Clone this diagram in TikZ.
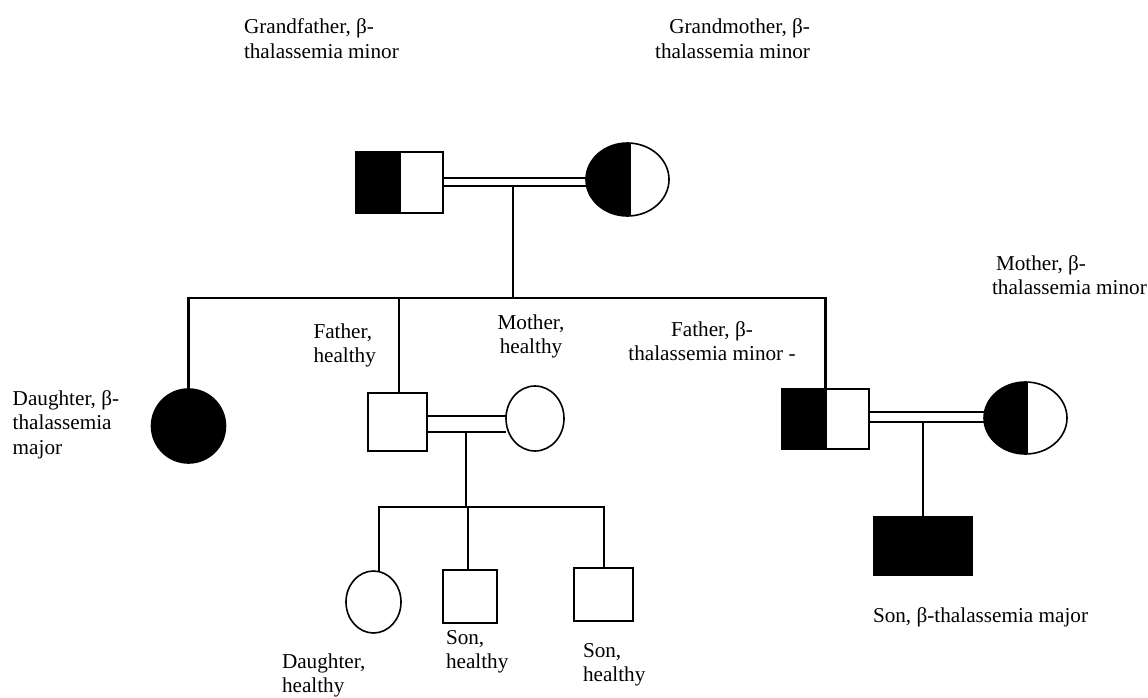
\documentclass[tikz,border=0pt]{standalone}
\usepackage{fontspec}
\setmainfont{Liberation Serif}
\usetikzlibrary{shapes.geometric,backgrounds}
\begin{document}
\begin{tikzpicture}[x=1pt,y=-1pt,
  every node/.style={inner sep=0pt,outer sep=0pt},
  male/.style={rectangle,draw=black,line width=1.6pt,fill=white},
  female/.style={ellipse,draw=black,line width=1.6pt,fill=white},
  affected/.style={fill=black},
  carrier/.style={path picture={\fill[black] (path picture bounding box.south west)
      rectangle ([xshift=#1]path picture bounding box.north);}},
  carrier/.default=0pt,
  rel/.style={line width=2.4pt,draw=black},
  lbl/.style={font=\fontsize{21.2}{24.6}\selectfont,text=black}]
\useasboundingbox (0,0) rectangle (1148,698);

% generation I
\node[male,carrier=1.5pt,minimum width=87pt,minimum height=61pt] (gf) at (399.5,182.5) {};
\node[female,carrier=3.5pt,minimum width=83pt,minimum height=73pt] (gm) at (627.5,179.5) {};

% generation II
\node[female,affected,minimum width=74pt,minimum height=74pt] (d1) at (188.5,426) {};
\node[male,minimum width=59pt,minimum height=58pt] (fa) at (397.5,422) {};
\node[female,minimum width=58pt,minimum height=65pt] (mo) at (535,418.5) {};
\node[male,carrier=1.5pt,minimum width=87pt,minimum height=60pt] (rf) at (825.5,419) {};
\node[female,carrier=2.5pt,minimum width=83pt,minimum height=72pt] (rm) at (1025.5,418) {};

% generation III
\node[male,affected,minimum width=98pt,minimum height=58pt] (rs) at (923,546) {};
\node[female,minimum width=55pt,minimum height=62pt] (c1) at (373.5,602) {};
\node[male,minimum width=54pt,minimum height=53pt] (c2) at (470,596.5) {};
\node[male,minimum width=59pt,minimum height=53pt] (c3) at (603.5,594.5) {};

% line levels
\coordinate (sib) at (0,298);
\coordinate (sib2) at (0,507);
\coordinate (gpm) at (513,186);
\coordinate (mm) at (466,432);
\coordinate (rmm) at (923,422);

\begin{scope}[on background layer]
  % double marriage lines
  \draw[rel] ([yshift=4.5pt]gf.east) -- ([yshift=4.5pt]gf.east -| gm.west);
  \draw[rel] ([yshift=-3.5pt]gf.east) -- ([yshift=-3.5pt]gf.east -| gm.west);
  \draw[rel] ([yshift=6pt]fa.east) -- ([yshift=6pt]fa.east -| mo.west);
  \draw[rel] ([yshift=-10pt]fa.east) -- ([yshift=-10pt]fa.east -| mo.west);
  \draw[rel] ([yshift=7pt]rf.east) -- ([yshift=7pt]rf.east -| rm.west);
  \draw[rel] ([yshift=-3pt]rf.east) -- ([yshift=-3pt]rf.east -| rm.west);
  % descent from generation I
  \draw[rel] (gpm) -- (gpm |- sib);
  \draw[rel] ([xshift=-1.2pt]d1.north |- sib) -- ([xshift=1.2pt]rf.north |- sib);
  \draw[rel] (d1.north |- sib) -- (d1.north);
  \draw[rel] ([xshift=1.5pt]fa.north |- sib) -- ([xshift=1.5pt]fa.north);
  \draw[rel] (rf.north |- sib) -- (rf.north);
  % descent from the middle couple
  \draw[rel] (mm) -- (mm |- sib2);
  \draw[rel] ([xshift=4.3pt]c1.north |- sib2) -- ([xshift=1.7pt]c3.north |- sib2);
  \draw[rel] ([xshift=5.5pt]c1.north |- sib2) -- ([xshift=5.5pt]c1.north);
  \draw[rel] ([xshift=-2pt]c2.north |- sib2) -- ([xshift=-2pt]c2.north);
  \draw[rel] ([xshift=0.5pt]c3.north |- sib2) -- ([xshift=0.5pt]c3.north);
  % descent from the right couple
  \draw[rel] (rmm) -- (rs.north);
\end{scope}

% labels (anchored on the baseline of their last line)
\node[lbl,align=left,anchor=base west] (tgf) at (244,58.6) {Grandfather, β-\\thalassemia minor};
\node[lbl,align=right,anchor=base east] (tgm) at (810,58.6) {Grandmother, β-\\thalassemia minor};
\node[lbl,align=left,anchor=base west] (trm) at (992,294.6) {\hspace*{4pt}Mother, β-\\thalassemia minor};
\node[lbl,align=left,anchor=base west] (tfa) at (313.5,362.6) {Father,\\healthy};
\node[lbl,align=center,anchor=base] (tmo) at (531,353.6) {Mother,\\healthy};
\node[lbl,align=center,anchor=base] (trf) at (712,360.6) {Father, β-\\thalassemia minor -};
\node[lbl,align=left,anchor=base west] (td1) at (12.7,454.2) {Daughter, β-\\thalassemia\\major};
\node[lbl,align=left,anchor=base west] (tc1) at (282,692.6) {Daughter,\\healthy};
\node[lbl,align=left,anchor=base west] (tc2) at (446,668.6) {Son,\\healthy};
\node[lbl,align=left,anchor=base west] (tc3) at (583,681.6) {Son,\\healthy};
\node[lbl,anchor=base west] (trs) at (873,622) {Son, β-thalassemia major};
\end{tikzpicture}
\end{document}
